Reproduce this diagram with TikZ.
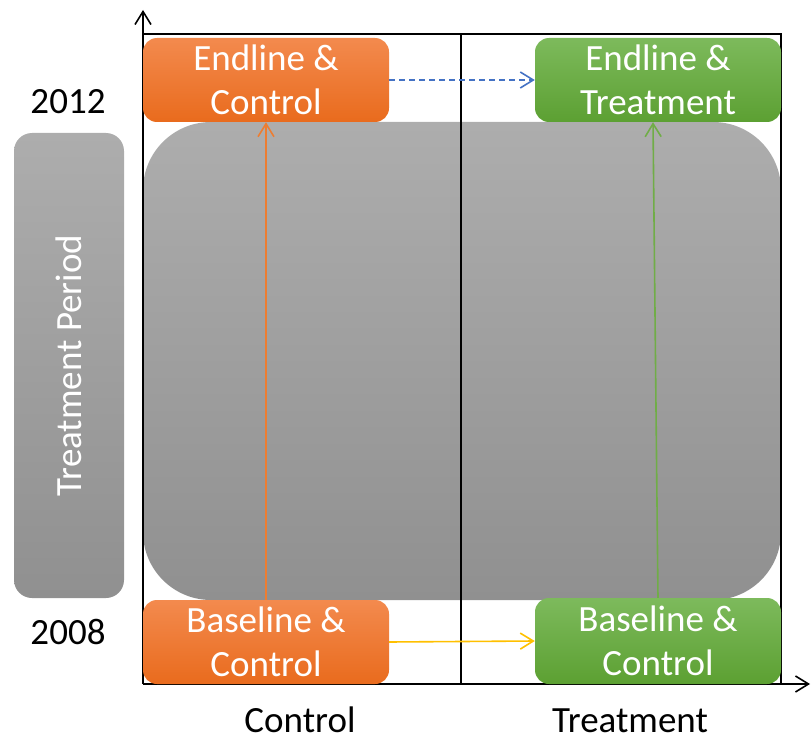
\documentclass[tikz,border=0pt]{standalone}
\usepackage{fontspec}
\setmainfont{Carlito}
\usetikzlibrary{arrows.meta}
\definecolor{orT}{HTML}{F38A4E}
\definecolor{orB}{HTML}{E96B1D}
\definecolor{grT}{HTML}{7DBA5C}
\definecolor{grB}{HTML}{5CA032}
\definecolor{gyT}{HTML}{ADADAD}
\definecolor{gyB}{HTML}{909090}
\definecolor{blueA}{HTML}{4472C4}
\definecolor{goldA}{HTML}{FFC000}
\definecolor{orA}{HTML}{ED7D31}
\definecolor{grA}{HTML}{70AD47}
\tikzset{
  box/.style={rounded corners=14pt, minimum width=246pt, minimum height=84pt, inner sep=0pt,
    text=white, align=center, font=\fontsize{37}{44}\selectfont},
  orbox/.style={box, top color=orT, bottom color=orB},
  grbox/.style={box, top color=grT, bottom color=grB},
  lbl/.style={font=\fontsize{37}{44}\selectfont, text=black, inner sep=0pt},
  barb/.style={-{Straight Barb[length=13pt,width=16pt,line width=1.6pt]}},
  conn/.style={line width=1.6pt, barb},
  axis/.style={line width=1.8pt, -{Straight Barb[length=13pt,width=16pt,line width=1.6pt]}}
}
\begin{document}
\begin{tikzpicture}[x=1pt,y=-1pt]
\useasboundingbox (0,0) rectangle (812,741);
% large gray background
\node[rounded corners=68pt, minimum width=638pt, minimum height=478pt, inner sep=0pt,
  top color=gyT, bottom color=gyB] (period) at (462,361) {};
% left label box
\node[rounded corners=18pt, minimum width=110pt, minimum height=465pt, inner sep=0pt,
  top color=gyT, bottom color=gyB, text=white, font=\fontsize{37}{44}\selectfont] (tp) at (69,365.5)
  {\rotatebox{90}{Treatment Period}};
% frame
\coordinate (o) at (143,684);
\coordinate (tl) at (143,34);
\coordinate (tr) at (781,34);
\coordinate (br) at (781,684);
\coordinate (mt) at (461,34);
\coordinate (mb) at (461,684);
\coordinate (yend) at (143,10);
\coordinate (xend) at (810,684);
\draw[line width=1.8pt] (tl) -- (tr) -- (br);
\draw[line width=1.8pt] (mt) -- (mb);
\draw[axis] (o) -- (yend);
\draw[axis] (o) -- (xend);
% boxes
\node[orbox] (ec) at (266,80) {Endline \&\\Control};
\node[grbox] (et) at (658,80) {Endline \&\\Treatment};
\node[orbox] (bc) at (266,642) {Baseline \&\\Control};
\node[grbox, minimum height=86pt] (bt) at (658,641) {Baseline \&\\Control};
% connectors
\draw[conn, orA] (bc.north) -- (ec.south);
\draw[conn, grA] (bt.north) -- ([xshift=-5pt]et.south);
\draw[conn, blueA, dash pattern=on 6pt off 4pt] (ec.east) -- (et.west);
\draw[conn, goldA] (bc.east) -- (bt.west);
% labels
\node[lbl] (y2012) at (68,102) {2012};
\node[lbl] (y2008) at (68,632) {2008};
\node[lbl, anchor=base] (xc) at (300,732) {Control};
\node[lbl, anchor=base] (xt) at (630,732) {Treatment};
\end{tikzpicture}
\end{document}
